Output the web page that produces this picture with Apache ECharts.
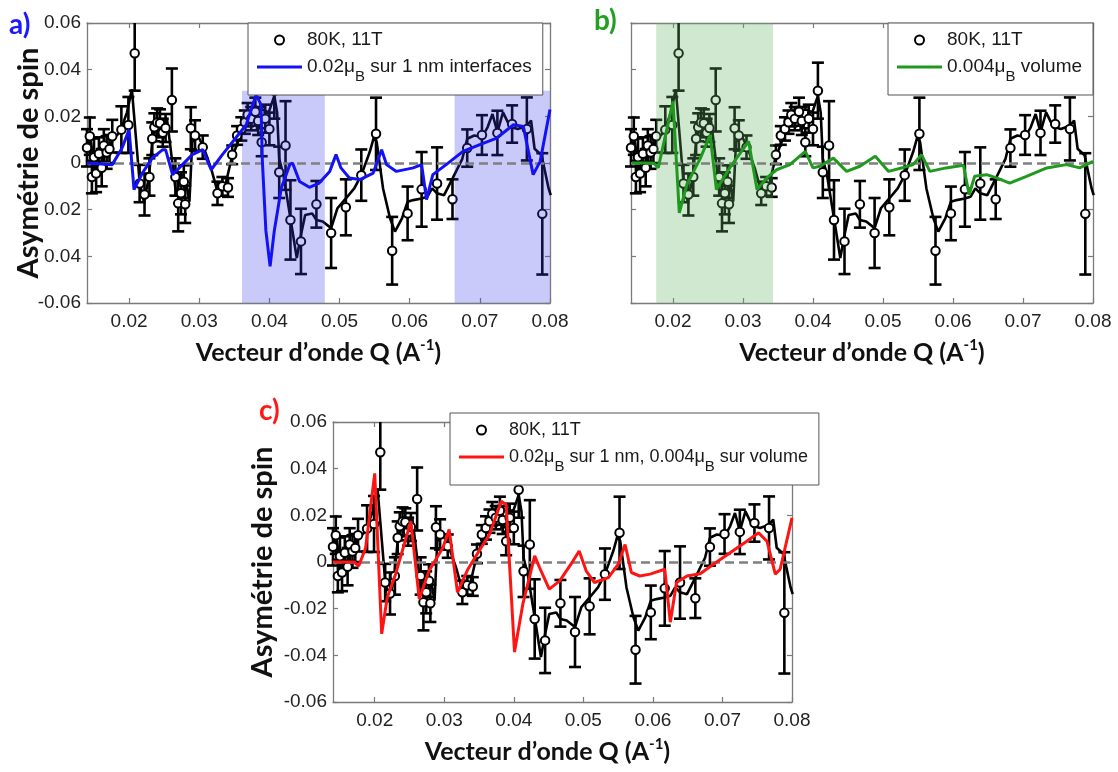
<!DOCTYPE html>
<html><head><meta charset="utf-8">
<script src="https://cdn.jsdelivr.net/npm/echarts@6/dist/echarts.min.js"></script>
<style>html,body{margin:0;padding:0;background:#fff}#c{width:1118px;height:772px}</style>
</head><body><div id="c"></div><script>
// ---------- data ----------
const pointQ = [0.0140,0.0144,0.0147,0.0150,0.0153,0.0157,0.0161,0.0164,0.0168,0.0172,0.0176,0.0189,0.0199,0.0208,0.0215,0.0222,0.0229,0.0233,0.0236,0.0240,0.0244,0.0248,0.0252,0.0261,0.0266,0.0270,0.0274,0.0278,0.0280,0.0288,0.0294,0.0305,0.0326,0.0333,0.0341,0.0347,0.0354,0.0360,0.0365,0.0369,0.0374,0.0380,0.0384,0.0389,0.0394,0.0400,0.0407,0.0414,0.0423,0.0430,0.0445,0.0467,0.0488,0.0509,0.0531,0.0552,0.0575,0.0597,0.0617,0.0639,0.0661,0.0682,0.0703,0.0725,0.0746,0.0767,0.0789];
const pointAsym = [0.0065,0.0115,-0.0060,0.0025,-0.0045,0.0040,-0.0020,0.0075,0.0045,0.0060,0.0115,0.0143,0.0163,0.0470,-0.0088,-0.0135,-0.0060,0.0104,0.0153,0.0174,0.0170,0.0130,0.0150,0.0270,-0.0060,-0.0173,-0.0130,-0.0080,-0.0177,0.0149,0.0118,0.0068,-0.0130,-0.0100,-0.0105,0.0035,0.0118,0.0146,0.0175,0.0207,0.0190,0.0220,0.0180,0.0089,0.0190,0.0146,0.0310,-0.0040,0.0075,-0.0244,-0.0336,-0.0177,-0.0300,-0.0190,-0.0052,0.0125,-0.0376,-0.0216,-0.0113,-0.0088,-0.0155,0.0064,0.0120,0.0129,0.0167,0.0146,-0.0218];
const pointErr = [0.008,0.008,0.007,0.008,0.008,0.007,0.008,0.007,0.007,0.006,0.007,0.010,0.012,0.016,0.008,0.009,0.008,0.007,0.006,0.006,0.006,0.006,0.006,0.0135,0.008,0.012,0.009,0.007,0.008,0.009,0.0065,0.005,0.005,0.004,0.004,0.004,0.004,0.005,0.005,0.005,0.005,0.006,0.006,0.006,0.006,0.007,0.012,0.011,0.019,0.017,0.014,0.010,0.015,0.012,0.011,0.0155,0.0145,0.0115,0.016,0.0155,0.0085,0.008,0.0085,0.0095,0.008,0.0135,0.026];

const measureLine = [[0.0140,0.0061],[0.0145,0.0104],[0.0149,0.0018],[0.0153,0.0040],[0.0158,0.0054],[0.0164,0.0075],[0.0170,0.0054],[0.0177,0.0104],[0.0187,0.0132],[0.0197,0.0217],[0.0204,0.0316],[0.0206,0.0323],[0.0215,-0.0081],[0.0221,-0.0166],[0.0228,-0.0067],[0.0233,0.0089],[0.0240,0.0182],[0.0247,0.0160],[0.0254,0.0189],[0.0261,0.0018],[0.0266,-0.0109],[0.0274,-0.0166],[0.0281,-0.0081],[0.0286,-0.0166],[0.0290,0.0089],[0.0298,0.0118],[0.0307,0.0061],[0.0317,-0.0024],[0.0326,-0.0123],[0.0336,-0.0109],[0.0346,0.0018],[0.0355,0.0089],[0.0363,0.0146],[0.0370,0.0196],[0.0379,0.0217],[0.0389,0.0231],[0.0399,0.0217],[0.0407,0.0288],[0.0411,0.0217],[0.0414,0.0018],[0.0420,-0.0052],[0.0430,-0.0237],[0.0439,-0.0407],[0.0445,-0.0308],[0.0451,-0.0223],[0.0461,-0.0216],[0.0467,-0.0244],[0.0476,-0.0251],[0.0488,-0.0279],[0.0497,-0.0194],[0.0509,-0.0152],[0.0521,-0.0109],[0.0531,-0.0052],[0.0543,0.0047],[0.0549,0.0111],[0.0553,0.0089],[0.0562,-0.0109],[0.0572,-0.0237],[0.0579,-0.0294],[0.0589,-0.0237],[0.0597,-0.0166],[0.0605,-0.0159],[0.0617,-0.0152],[0.0625,-0.0145],[0.0632,-0.0109],[0.0639,-0.0130],[0.0649,-0.0138],[0.0661,-0.0067],[0.0675,0.0018],[0.0682,0.0104],[0.0692,0.0118],[0.0703,0.0111],[0.0711,0.0153],[0.0718,0.0210],[0.0725,0.0132],[0.0733,0.0217],[0.0740,0.0174],[0.0746,0.0153],[0.0754,0.0146],[0.0767,0.0160],[0.0773,0.0182],[0.0778,0.0061],[0.0788,0.0033],[0.0798,-0.0109],[0.0801,-0.0138]];

const modelInterfaces = [[0.0140,0],[0.0176,-0.0007],[0.0190,0.0064],[0.0200,0.0143],[0.0202,0.0150],[0.0207,-0.0114],[0.0219,-0.0043],[0.0233,0.0021],[0.0248,0.0057],[0.0252,0.0057],[0.0262,-0.0050],[0.0276,-0.0007],[0.0290,0.0036],[0.0305,0.0057],[0.0317,-0.0029],[0.0333,0.0036],[0.0352,0.0107],[0.0367,0.0164],[0.0381,0.0293],[0.0388,0.0250],[0.0390,0.0007],[0.0395,-0.0290],[0.0401,-0.0443],[0.0407,-0.0290],[0.0417,-0.0107],[0.0429,-0.0007],[0.0433,0],[0.0443,-0.0079],[0.0457,-0.0104],[0.0471,-0.0086],[0.0486,-0.0036],[0.0495,0.0036],[0.0502,-0.0021],[0.0514,-0.0064],[0.0529,-0.0071],[0.0548,-0.0043],[0.0560,0.0057],[0.0567,-0.0007],[0.0581,-0.0036],[0.0605,-0.0021],[0.0617,-0.0007],[0.0624,-0.0157],[0.0633,-0.0050],[0.0652,-0.0007],[0.0676,0.0050],[0.0700,0.0079],[0.0724,0.0107],[0.0748,0.0164],[0.0762,0.0157],[0.0776,-0.0050],[0.0786,0.0007],[0.0800,0.0229]];

const modelVolume = [[0.0141,0],[0.0172,0],[0.0179,-0.0020],[0.0200,0.0264],[0.0209,-0.0214],[0.0220,-0.0090],[0.0239,0.0020],[0.0253,0.0120],[0.0262,-0.0114],[0.0281,-0.0021],[0.0308,0.0093],[0.0320,-0.0114],[0.0334,-0.0064],[0.0348,-0.0029],[0.0367,-0.0007],[0.0389,0.0050],[0.0400,-0.0021],[0.0410,-0.0014],[0.0429,0.0021],[0.0448,-0.0036],[0.0467,-0.0014],[0.0489,0.0029],[0.0508,-0.0036],[0.0529,-0.0019],[0.0543,-0.0007],[0.0555,0.0036],[0.0567,-0.0036],[0.0590,-0.0021],[0.0615,-0.0010],[0.0623,-0.0136],[0.0631,-0.0057],[0.0648,-0.0050],[0.0662,-0.0064],[0.0681,-0.0086],[0.0705,-0.0057],[0.0734,-0.0021],[0.0762,-0.0007],[0.0781,-0.0021],[0.0800,0.0007]];

const modelBoth = [[0.0140,0],[0.0170,0],[0.0177,-0.0017],[0.0187,0.0061],[0.0200,0.0380],[0.0210,-0.0308],[0.0218,-0.0152],[0.0230,-0.0052],[0.0252,0.0174],[0.0264,-0.0159],[0.0278,-0.0038],[0.0298,0.0061],[0.0307,0.0139],[0.0319,-0.0130],[0.0334,-0.0031],[0.0350,0.0047],[0.0365,0.0118],[0.0382,0.0260],[0.0389,0.0245],[0.0401,-0.0386],[0.0413,-0.0180],[0.0430,0.0026],[0.0437,-0.0024],[0.0451,-0.0116],[0.0466,-0.0081],[0.0485,0.0004],[0.0494,0.0047],[0.0504,-0.0038],[0.0516,-0.0088],[0.0536,-0.0067],[0.0550,-0.0010],[0.0560,0.0075],[0.0569,-0.0045],[0.0581,-0.0060],[0.0596,-0.0052],[0.0617,-0.0031],[0.0625,-0.0258],[0.0634,-0.0088],[0.0649,-0.0060],[0.0668,-0.0050],[0.0687,-0.0010],[0.0711,0.0040],[0.0735,0.0089],[0.0752,0.0125],[0.0764,0.0089],[0.0776,-0.0052],[0.0783,-0.0031],[0.0800,0.0189]];

// shaded Q ranges: [Q start, Q end, asym bottom, asym top]
const shadeInterfaces = [[0.0361,0.0479,-0.06,0.031],[0.0664,0.0800,-0.06,0.031]];
const shadeVolume = [[0.0176,0.0343,-0.06,0.06]];

const xTicks = [0.02,0.03,0.04,0.05,0.06,0.07,0.08];
const xTickLabels = ['0.02','0.03','0.04','0.05','0.06','0.07','0.08'];
const yTicks = [-0.06,-0.04,-0.02,0,0.02,0.04,0.06];
const yTickLabelsA = ['-0.06','0.04','0.02','0','0.02','0.04','0.06'];
const yTickLabelsC = ['-0.06','-0.04','-0.02','0','0.02','0.04','0.06'];

const dataName = '80K, 11T';
const nameA = '0.02μB sur 1 nm interfaces';
const nameB = '0.004μB volume';
const nameC = '0.02μB sur 1 nm, 0.004μB sur volume';
const xTitle = 'Vecteur d’onde Q (A{sup|-1})';
const yTitle = 'Asymétrie de spin';

// ---------- chart ----------
const X_MIN = 0.014, X_MAX = 0.08, Y_MIN = -0.06, Y_MAX = 0.06;
const AX = '#7a7a7a';
const LFONT = 'Liberation Sans';
const TFONT = 'Lato';

const points = pointQ.map((q, i) => [q, pointAsym[i]]);
const errData = pointQ.map((q, i) => [q, pointAsym[i], pointErr[i]]);

function lookup(ticks, labels, v) {
  const i = ticks.findIndex(t => Math.abs(t - v) < 1e-9);
  return i < 0 ? '' : labels[i];
}

function renderErr(params, api) {
  const q = api.value(0), v = api.value(1), e = api.value(2);
  const hi = Math.min(v + e, Y_MAX), lo = Math.max(v - e, Y_MIN);
  const pHi = api.coord([q, hi]), pLo = api.coord([q, lo]);
  const cap = 6;
  const style = { stroke: '#000', lineWidth: 2.6, fill: null };
  const ch = [{ type: 'line', shape: { x1: pHi[0], y1: pHi[1], x2: pLo[0], y2: pLo[1] }, style }];
  if (v + e <= Y_MAX) ch.push({ type: 'line', shape: { x1: pHi[0] - cap, y1: pHi[1], x2: pHi[0] + cap, y2: pHi[1] }, style });
  if (v - e >= Y_MIN) ch.push({ type: 'line', shape: { x1: pLo[0] - cap, y1: pLo[1], x2: pLo[0] + cap, y2: pLo[1] }, style });
  return { type: 'group', children: ch };
}
function shadeRenderer(color) {
  return function (params, api) {
    const p0 = api.coord([api.value(0), api.value(3)]);
    const p1 = api.coord([api.value(1), api.value(2)]);
    return { type: 'rect', shape: { x: p0[0], y: p0[1], width: p1[0] - p0[0], height: p1[1] - p0[1] }, style: { fill: color } };
  };
}

const panels = [
  { grid: { left: 87, top: 23, width: 463, height: 280 }, model: modelInterfaces, name: nameA, color: '#1212f5',
    shade: shadeInterfaces, shadeColor: 'rgba(55,55,235,0.27)', yLabels: yTickLabelsA, yName: true, yGap: 44, xPad: [0,0,0,0],
    legend: { left: 248, top: 23 }, lfs: 19 },
  { grid: { left: 631, top: 23, width: 462, height: 280 }, model: modelVolume, name: nameB, color: '#1f9a1f',
    shade: shadeVolume, shadeColor: 'rgba(95,180,95,0.3)', yLabels: null, yName: false, yGap: 44, xPad: [0,0,0,0],
    legend: { left: 888, top: 23 }, lfs: 19 },
  { grid: { left: 333, top: 422, width: 459, height: 280 }, model: modelBoth, name: nameC, color: '#ff1414',
    shade: null, yLabels: yTickLabelsC, yName: true, yGap: 56, xPad: [0,30,0,0],
    legend: { left: 450, top: 413 }, lfs: 18 }
];

const option = {
  animation: false,
  backgroundColor: '#fff',
  title: [
    { text: 'a)', left: 9, top: 11, padding: 0, textStyle: { color: '#1a1aff', fontSize: 28, fontWeight: 'bold', fontFamily: TFONT } },
    { text: 'b)', left: 594, top: 7, padding: 0, textStyle: { color: '#22a022', fontSize: 28, fontWeight: 'bold', fontFamily: TFONT } },
    { text: 'c)', left: 259, top: 397, padding: 0, textStyle: { color: '#ff1a1a', fontSize: 28, fontWeight: 'bold', fontFamily: TFONT } }
  ],
  grid: [], xAxis: [], yAxis: [], legend: [], series: []
};

const lineAx = { show: true, onZero: false, lineStyle: { color: AX, width: 1.3 } };
const tickAx = { show: true, inside: true, length: 5, lineStyle: { color: AX, width: 1.2 } };
const tickFont = { fontFamily: LFONT, fontSize: 19, color: '#222' };

panels.forEach((p, k) => {
  option.grid.push(Object.assign({ outerBoundsMode: 'none', containLabel: false }, p.grid));
  option.xAxis.push({
    gridIndex: k, type: 'value', min: X_MIN, max: X_MAX, position: 'bottom',
    axisLine: lineAx, axisTick: Object.assign({ customValues: xTicks }, tickAx), splitLine: { show: false },
    axisLabel: Object.assign({ customValues: xTicks, margin: 9, formatter: v => lookup(xTicks, xTickLabels, v) }, tickFont),
    name: xTitle, nameLocation: 'middle', nameGap: 35, nameMoveOverlap: false,
    nameTextStyle: { fontFamily: TFONT, fontWeight: 'bold', fontSize: 25, color: '#111', lineHeight: 30, padding: p.xPad,
      rich: { sup: { fontFamily: TFONT, fontWeight: 'bold', fontSize: 15, lineHeight: 15, verticalAlign: 'top', color: '#111' } } }
  });
  option.xAxis.push({
    gridIndex: k, type: 'value', min: X_MIN, max: X_MAX, position: 'top',
    axisLine: lineAx, axisTick: Object.assign({ customValues: xTicks }, tickAx), splitLine: { show: false }, axisLabel: { show: false }
  });
  const yl = {
    gridIndex: k, type: 'value', min: Y_MIN, max: Y_MAX, position: 'left',
    axisLine: lineAx, axisTick: Object.assign({ customValues: yTicks }, tickAx), splitLine: { show: false },
    axisLabel: p.yLabels ? Object.assign({ customValues: yTicks, margin: 6, formatter: v => lookup(yTicks, p.yLabels, v) }, tickFont) : { show: false }
  };
  if (p.yName) Object.assign(yl, {
    name: yTitle, nameLocation: 'middle', nameGap: p.yGap, nameRotate: 90, nameMoveOverlap: false,
    nameTextStyle: { fontFamily: TFONT, fontWeight: 'bold', fontSize: 29, color: '#111' }
  });
  option.yAxis.push(yl);
  option.yAxis.push({
    gridIndex: k, type: 'value', min: Y_MIN, max: Y_MAX, position: 'right',
    axisLine: lineAx, axisTick: Object.assign({ customValues: yTicks }, tickAx), splitLine: { show: false }, axisLabel: { show: false }
  });
  const xi = 2 * k, yi = 2 * k;
  option.series.push({
    type: 'custom', name: 'barres ' + k, xAxisIndex: xi, yAxisIndex: yi, renderItem: renderErr, data: errData,
    encode: { x: 0, y: 1 }, z: 2, silent: true
  });
  option.series.push({
    type: 'line', name: 'mesure ' + k, xAxisIndex: xi, yAxisIndex: yi, data: measureLine, symbol: 'none',
    lineStyle: { color: '#000', width: 2.6 }, itemStyle: { color: '#000' }, z: 2, silent: true
  });
  option.series.push({
    type: 'scatter', name: dataName, xAxisIndex: xi, yAxisIndex: yi, data: points, symbol: 'circle', symbolSize: 8.5,
    itemStyle: { color: '#fff', borderColor: '#000', borderWidth: 2, opacity: 1 }, z: 3, silent: true,
    markLine: { silent: true, symbol: ['none', 'none'], label: { show: false },
      lineStyle: { color: '#7f7f7f', type: [9, 5], width: 2.6 }, data: [{ yAxis: 0 }] }
  });
  if (p.shade) option.series.push({
    type: 'custom', name: 'zone ' + k, xAxisIndex: xi, yAxisIndex: yi, renderItem: shadeRenderer(p.shadeColor),
    data: p.shade, encode: { x: [0, 1], y: [2, 3] }, z: 4, silent: true
  });
  option.series.push({
    type: 'line', name: p.name, xAxisIndex: xi, yAxisIndex: yi, data: p.model, symbol: 'none',
    lineStyle: { color: p.color, width: 3 }, itemStyle: { color: p.color }, z: 5, silent: true
  });
  option.legend.push({
    left: p.legend.left, top: p.legend.top, orient: 'vertical', z: 20,
    data: [{ name: dataName }, { name: p.name, icon: 'path://M0,0H45V3H0Z' }], selectedMode: false,
    backgroundColor: '#fff', borderColor: '#555', borderWidth: 1, padding: [7, 11, 11, 9],
    itemWidth: 45, itemHeight: 9, itemGap: 7,
    formatter: n => n.replace(/μB/g, 'μ{s|B}'),
    textStyle: { fontFamily: LFONT, fontSize: p.lfs, color: '#1a1a1a', lineHeight: 20,
      rich: { s: { fontFamily: LFONT, fontSize: 15, height: 1, lineHeight: 20, padding: [19, 0, 0, 0], verticalAlign: 'top', color: '#1a1a1a' } } }
  });
});

const chart = echarts.init(document.getElementById('c'));
chart.setOption(option);
</script></body></html>
